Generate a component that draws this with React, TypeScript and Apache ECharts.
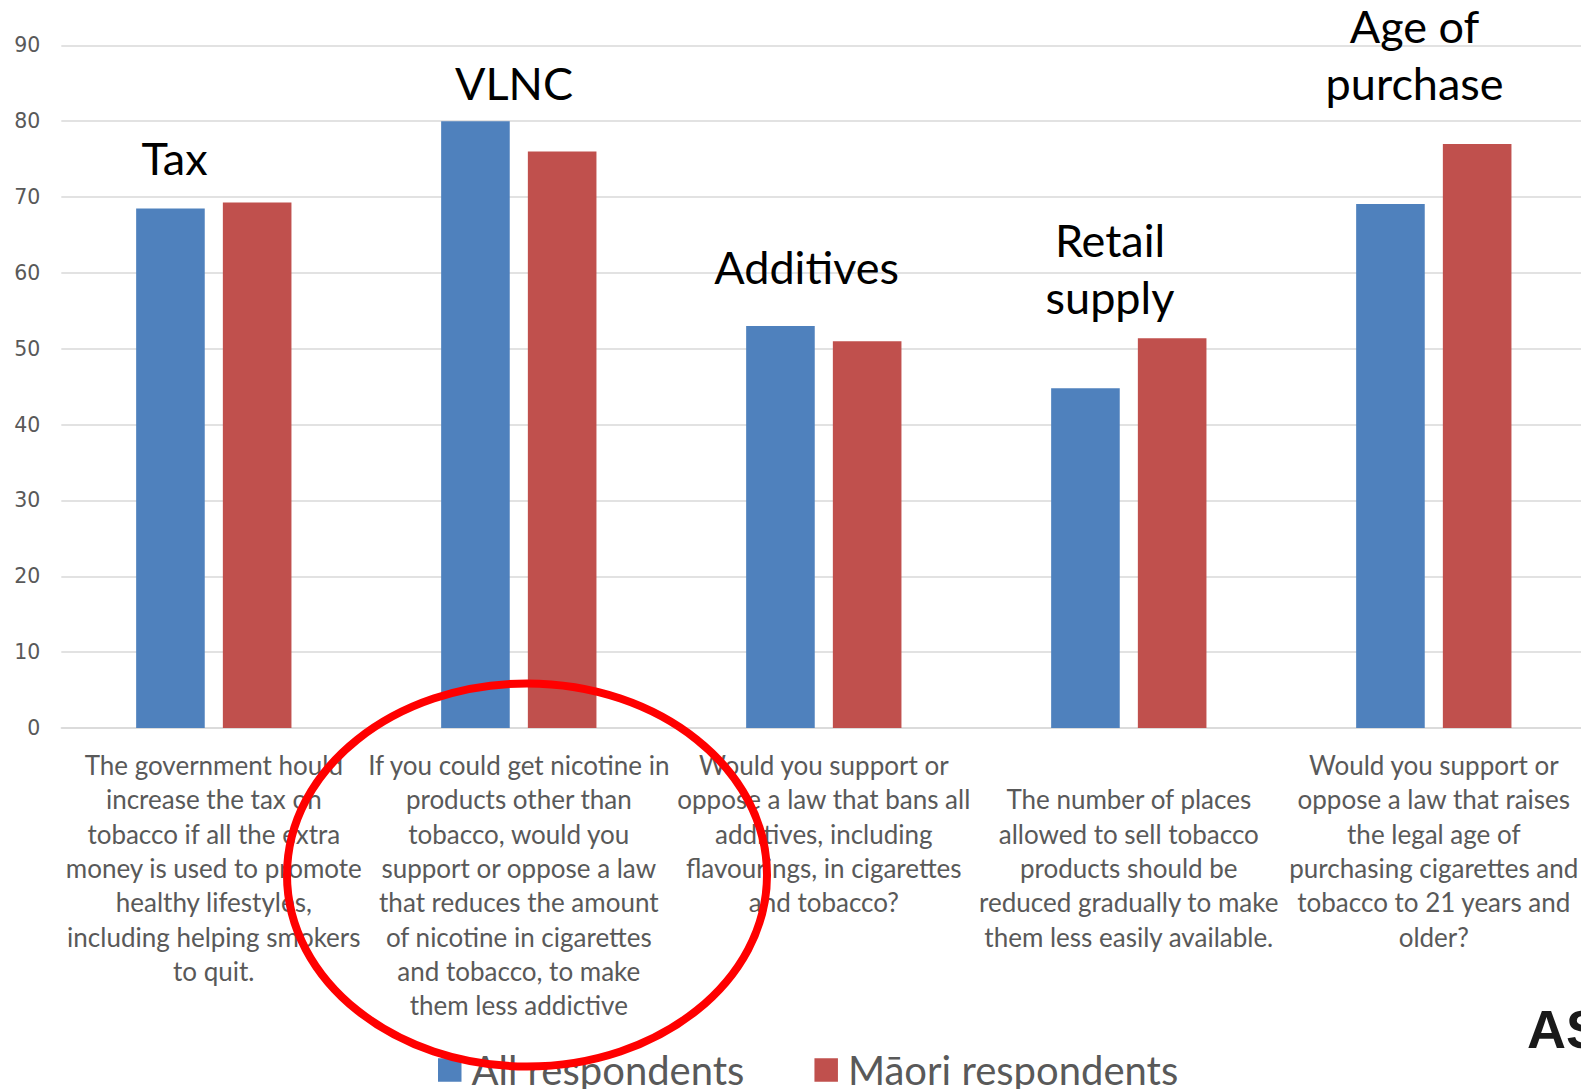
import React, { useEffect, useRef } from "react";
import * as echarts from "echarts";

const categories = [
  "The government hould\nincrease the tax on\ntobacco if all the extra\nmoney is used to promote\nhealthy lifestyles,\nincluding helping smokers\nto quit.",
  "If you could get nicotine in\nproducts other than\ntobacco, would you\nsupport or oppose a law\nthat reduces the amount\nof nicotine in cigarettes\nand tobacco, to make\nthem less addictive",
  "Would you support or\noppose a law that bans all\nadditives, including\nflavourings, in cigarettes\nand tobacco?",
  "\nThe number of places\nallowed to sell tobacco\nproducts should be\nreduced gradually to make\nthem less easily available.",
  "Would you support or\noppose a law that raises\nthe legal age of\npurchasing cigarettes and\ntobacco to 21 years and\nolder?",
];
const allRespondents = [68.5, 80.0, 53.0, 44.8, 69.1];
const maoriRespondents = [69.3, 76.0, 51.0, 51.4, 77.0];
const seriesNames = ["All respondents", "Māori respondents"];
const groupTitles = ["Tax", "VLNC", "Additives", "Retail\nsupply", "Age of\npurchase"];
const yTicks = [0, 90, 10];

const FONT = "Lato, 'Open Sans', sans-serif";

export default function App() {
  const ref = useRef<HTMLDivElement>(null);
  useEffect(() => {
    if (!ref.current) return;
    const chart = echarts.init(ref.current, null, { renderer: "svg" });
    // top line centre of each annotation
    const titlePos = [
      [174.5, 158.3],
      [514, 82.7],
      [806.6, 267],
      [1110, 240],
      [1414.6, 26],
    ];
    const lineGap = 56.5;
    const titleTexts: any[] = [];
    groupTitles.forEach((t, i) => {
      t.split("\n").forEach((line, j) => {
        titleTexts.push({
          type: "text",
          x: titlePos[i][0],
          y: titlePos[i][1] + j * lineGap,
          z: 50,
          style: {
            text: line,
            fill: "#000000",
            font: `45px ${FONT}`,
            align: "center",
            verticalAlign: "middle",
          },
        });
      });
    });
    chart.setOption({
      animation: false,
      backgroundColor: "#ffffff",
      grid: {
        left: 61.3,
        width: 1525,
        top: 45.4,
        bottom: 361,
        containLabel: false,
        outerBoundsMode: "none",
      },
      legend: {
        data: seriesNames,
        left: 433,
        top: 1045,
        itemWidth: 23.5,
        itemHeight: 23.5,
        itemGap: 70,
        icon: "rect",
        textStyle: { color: "#595959", fontSize: 40, fontFamily: FONT, lineHeight: 36, padding: [0, 0, 0, 5] },
      },
      xAxis: {
        type: "category",
        data: categories,
        axisLine: { lineStyle: { color: "#D9D9D9", width: 1.5 } },
        axisTick: { show: false },
        axisLabel: {
          interval: 0,
          margin: 20,
          color: "#595959",
          fontSize: 26,
          lineHeight: 34.3,
          fontFamily: FONT,
          align: "center",
        },
      },
      yAxis: {
        type: "value",
        min: yTicks[0],
        max: yTicks[1],
        interval: yTicks[2],
        axisLine: { show: false },
        axisTick: { show: false },
        splitLine: { lineStyle: { color: "#D9D9D9", width: 1.5 } },
        axisLabel: { color: "#595959", fontSize: 20.5, margin: 21, fontFamily: "'DejaVu Sans', sans-serif" },
      },
      series: [
        {
          name: seriesNames[0],
          type: "bar",
          data: allRespondents,
          barWidth: 68.6,
          barGap: "26.4%",
          itemStyle: { color: "#4F81BD" },
        },
        {
          name: seriesNames[1],
          type: "bar",
          data: maoriRespondents,
          barWidth: 68.6,
          barGap: "26.4%",
          itemStyle: { color: "#C0504D" },
        },
      ],
      graphic: [
        ...titleTexts,
        {
          type: "text",
          x: 1527,
          y: 1029,
          z: 50,
          style: {
            text: "AS",
            fill: "#1a1a1a",
            font: "bold 54px 'Liberation Sans', Arial, sans-serif",
            align: "left",
            verticalAlign: "middle",
          },
        },
        {
          type: "ellipse",
          z: 100,
          shape: { cx: 527, cy: 875, rx: 240, ry: 191.5 },
          style: { fill: "none", stroke: "#FF0000", lineWidth: 8 },
        },
      ],
    });
    return () => chart.dispose();
  }, []);
  return (
    <div
      ref={ref}
      style={{ position: "absolute", left: 0, top: 0, width: 1581, height: 1089, overflow: "hidden" }}
    />
  );
}
